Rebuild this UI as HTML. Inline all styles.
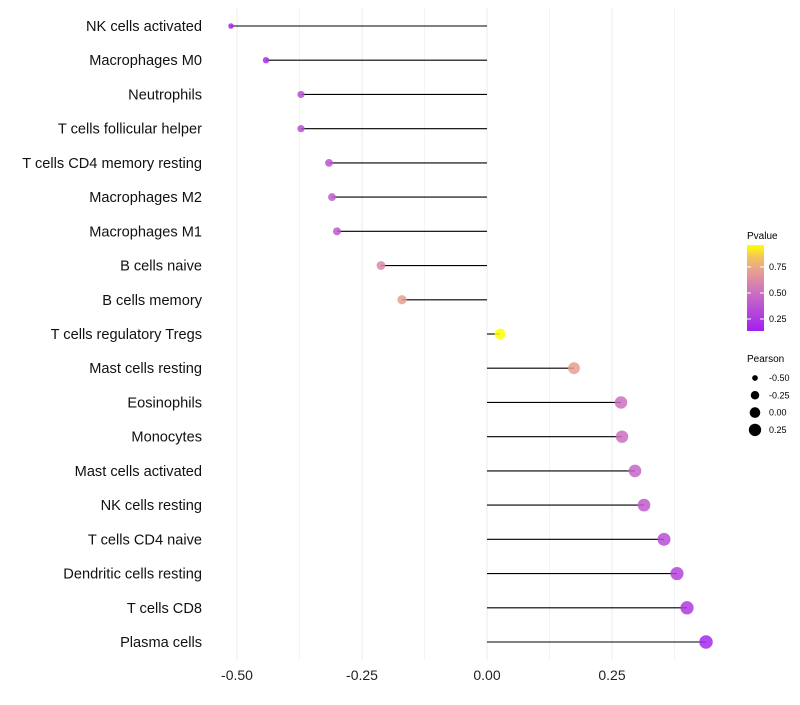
<!DOCTYPE html>
<html><head><meta charset="utf-8"><style>
body{margin:0;background:#fff;font-family:"Liberation Sans",sans-serif}
</style></head><body>
<svg id="chart" width="800" height="700" xmlns="http://www.w3.org/2000/svg">
<defs><linearGradient id="pg" x1="0" y1="1" x2="0" y2="0">
<stop offset="0" stop-color="#a020f0"/><stop offset="0.45" stop-color="#cc70c0"/><stop offset="0.7" stop-color="#e8a090"/><stop offset="0.85" stop-color="#f3c060"/><stop offset="1" stop-color="#ffff00"/></linearGradient></defs>
<g id="grid"></g><g id="marks"></g><g id="ylabels"></g><g id="xlabels"></g>
<g>
<text x="747" y="239" font-size="10">Pvalue</text>
<rect x="747" y="245" width="17" height="86" fill="url(#pg)"/>
<g id="pticks"></g>
</g>
<g id="sizeleg">
<text x="747" y="362" font-size="10">Pearson</text>
</g>
</svg>
<script>
const cells=["NK cells activated","Macrophages M0","Neutrophils","T cells follicular helper","T cells CD4 memory resting","Macrophages M2","Macrophages M1","B cells naive","B cells memory","T cells regulatory  Tregs","Mast cells resting","Eosinophils","Monocytes","Mast cells activated","NK cells resting","T cells CD4 naive","Dendritic cells resting","T cells CD8","Plasma cells"];
const pearson=[-0.512,-0.442,-0.372,-0.372,-0.316,-0.31,-0.30,-0.212,-0.17,0.026,0.174,0.268,0.27,0.296,0.314,0.354,0.38,0.40,0.438];
const pvalue=[0.15,0.2,0.35,0.35,0.38,0.4,0.4,0.6,0.7,0.96,0.7,0.5,0.5,0.45,0.4,0.35,0.3,0.25,0.18];
const xticks=[-0.5,-0.25,0,0.25];
const xtickLabels=["-0.50","-0.25","0.00","0.25"];
const pTicks=[0.25,0.5,0.75];
const pTickLabels=["0.25","0.50","0.75"];
const sizeVals=[-0.5,-0.25,0,0.25];
const sizeLabels=["-0.50","-0.25","0.00","0.25"];
const NS="http://www.w3.org/2000/svg";
const X=v=>487+v*500;
const Y=i=>26+i*(616/18);
const R=v=>Math.sqrt(Math.max(4,28+40*v));
const P=p=>331-(p-0.135)*(86/0.825);
function mk(t,a,parent){const e=document.createElementNS(NS,t);for(const k in a)e.setAttribute(k,a[k]);parent.appendChild(e);return e;}
const stops=[[0.135,[160,32,240]],[0.5,[204,112,192]],[0.71,[232,160,144]],[0.84,[243,192,96]],[0.96,[255,255,0]]];
function col(p){if(p<=stops[0][0])return 'rgb('+stops[0][1]+')';for(let i=1;i<stops.length;i++){if(p<=stops[i][0]){const t=(p-stops[i-1][0])/(stops[i][0]-stops[i-1][0]);const c=stops[i-1][1].map((v,j)=>Math.round(v+(stops[i][1][j]-v)*t));return 'rgb('+c+')';}}return 'rgb(255,255,0)';}
const grid=document.getElementById('grid'),marks=document.getElementById('marks'),yl=document.getElementById('ylabels'),xl=document.getElementById('xlabels');
for(let v=-0.5;v<=0.376;v+=0.125){const g=mk('line',{x1:X(v),x2:X(v),y1:8,y2:660,stroke:'#ebebeb','stroke-width':Math.abs((v*4)%1)<0.01?1:0.6},grid);

}
xticks.forEach((v,i)=>{const t=mk('text',{x:X(v),y:680,'font-size':14,'text-anchor':'middle',fill:'#222'},xl);t.textContent=xtickLabels[i];

});
cells.forEach((c,i)=>{
const t=mk('text',{x:202,y:Y(i)+5,'font-size':14.6,'text-anchor':'end',fill:'#111'},yl);t.textContent=c;


const l=mk('line',{x1:X(0),x2:X(pearson[i]),y1:Y(i),y2:Y(i),stroke:'#000','stroke-width':1.1},marks);


const p=mk('circle',{cx:X(pearson[i]),cy:Y(i),r:R(pearson[i]),fill:col(pvalue[i]),'fill-opacity':0.85},marks);


});
const pt=document.getElementById('pticks');
pTicks.forEach((v,i)=>{mk('line',{x1:747,x2:751,y1:P(v),y2:P(v),stroke:'#fff'},pt);mk('line',{x1:760,x2:764,y1:P(v),y2:P(v),stroke:'#fff'},pt);
const t=mk('text',{x:769,y:P(v)+3,'font-size':9},pt);t.textContent=pTickLabels[i];

});
const sl=document.getElementById('sizeleg');
sizeVals.forEach((v,i)=>{const y=378+i*17.3;const c=mk('circle',{cx:755,cy:y,r:R(v),fill:'#000'},sl);


const t=mk('text',{x:769,y:y+3,'font-size':9},sl);t.textContent=sizeLabels[i];

});
</script>
</body></html>
